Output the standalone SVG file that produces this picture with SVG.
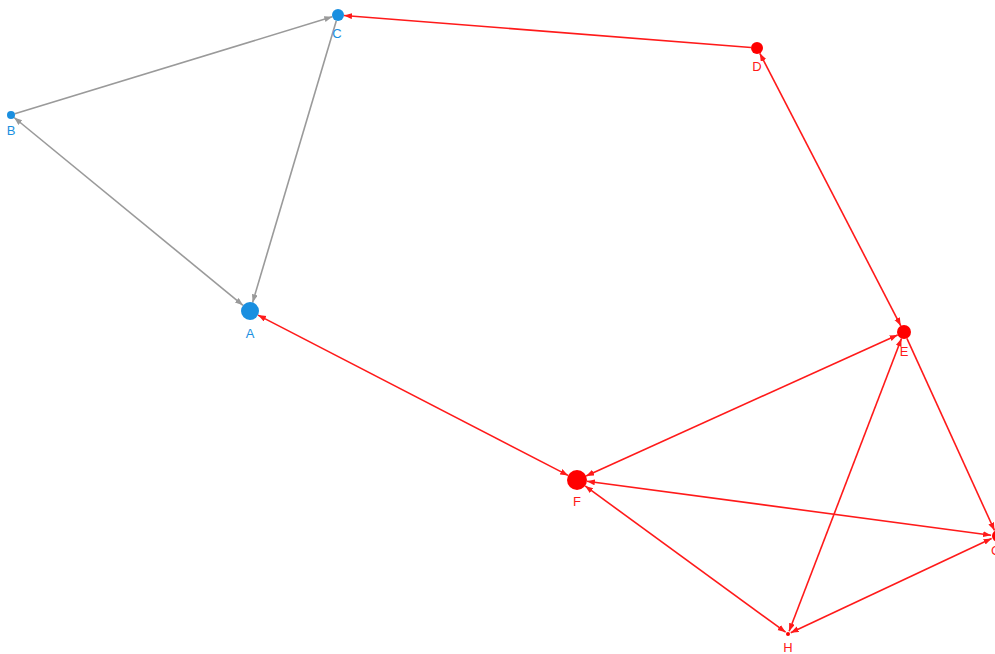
<svg xmlns="http://www.w3.org/2000/svg" width="995" height="654" viewBox="0 0 995 654">
<style>
.eg{stroke:#9a9a9a;stroke-width:1.6;fill:none}
.er{stroke:#ff1a1a;stroke-width:1.6;fill:none}
.nb{fill:#1a8fe0}
.nr{fill:#ff0000}
.lb{font-family:"Liberation Sans",Arial,sans-serif;font-size:13px;fill:#1a8fe0;text-anchor:middle}
.lr{font-family:"Liberation Sans",Arial,sans-serif;font-size:13px;fill:#ff1a1a;text-anchor:middle}
</style>
<defs>
<marker id="ag" markerUnits="userSpaceOnUse" markerWidth="9" markerHeight="7" refX="8" refY="3" orient="auto-start-reverse"><path d="M0,0 L8,3 L0,6 z" fill="#9a9a9a"/></marker>
<marker id="ar" markerUnits="userSpaceOnUse" markerWidth="9" markerHeight="7" refX="8" refY="3" orient="auto-start-reverse"><path d="M0,0 L8,3 L0,6 z" fill="#ff1a1a"/></marker>
</defs>
<rect width="995" height="654" fill="#ffffff"/>
<g id="edges">
<line class="eg" x1="14.8" y1="113.8" x2="332.3" y2="16.8" marker-end="url(#ag)"/>
<line class="eg" x1="243.0" y1="305.3" x2="14.1" y2="117.5" marker-start="url(#ag)" marker-end="url(#ag)"/>
<line class="eg" x1="336.3" y1="20.8" x2="252.6" y2="302.4" marker-end="url(#ag)"/>
<line class="er" x1="751.0" y1="47.5" x2="344.0" y2="15.5" marker-end="url(#ar)"/>
<line class="er" x1="759.8" y1="53.3" x2="900.8" y2="325.8" marker-start="url(#ar)" marker-end="url(#ar)"/>
<line class="er" x1="258.0" y1="315.1" x2="568.1" y2="475.4" marker-start="url(#ar)" marker-end="url(#ar)"/>
<line class="er" x1="897.6" y1="334.9" x2="586.1" y2="475.9" marker-start="url(#ar)" marker-end="url(#ar)"/>
<line class="er" x1="586.9" y1="481.3" x2="991.1" y2="535.2" marker-start="url(#ar)" marker-end="url(#ar)"/>
<line class="er" x1="906.9" y1="338.4" x2="994.5" y2="530.5" marker-end="url(#ar)"/>
<line class="er" x1="901.5" y1="338.5" x2="789.1" y2="631.2" marker-start="url(#ar)" marker-end="url(#ar)"/>
<line class="er" x1="991.6" y1="538.5" x2="790.7" y2="632.7" marker-start="url(#ar)" marker-end="url(#ar)"/>
<line class="er" x1="585.1" y1="485.9" x2="785.6" y2="632.2" marker-start="url(#ar)" marker-end="url(#ar)"/>
</g>
<g id="node-A"><circle class="nb" cx="250" cy="311" r="9"/><text class="lb" x="250" y="338">A</text></g>
<g id="node-B"><circle class="nb" cx="11" cy="115" r="4"/><text class="lb" x="11" y="135">B</text></g>
<g id="node-C"><circle class="nb" cx="338" cy="15" r="6"/><text class="lb" x="337" y="38">C</text></g>
<g id="node-D"><circle class="nr" cx="757" cy="48" r="6"/><text class="lr" x="757" y="71">D</text></g>
<g id="node-E"><circle class="nr" cx="904" cy="332" r="7"/><text class="lr" x="904" y="356">E</text></g>
<g id="node-F"><circle class="nr" cx="577" cy="480" r="10"/><text class="lr" x="577" y="506">F</text></g>
<g id="node-G"><circle class="nr" cx="998" cy="536" r="6"/><text class="lr" x="996" y="555">G</text></g>
<g id="node-H"><circle class="nr" cx="788" cy="634" r="2"/><text class="lr" x="788" y="652">H</text></g>
</svg>
